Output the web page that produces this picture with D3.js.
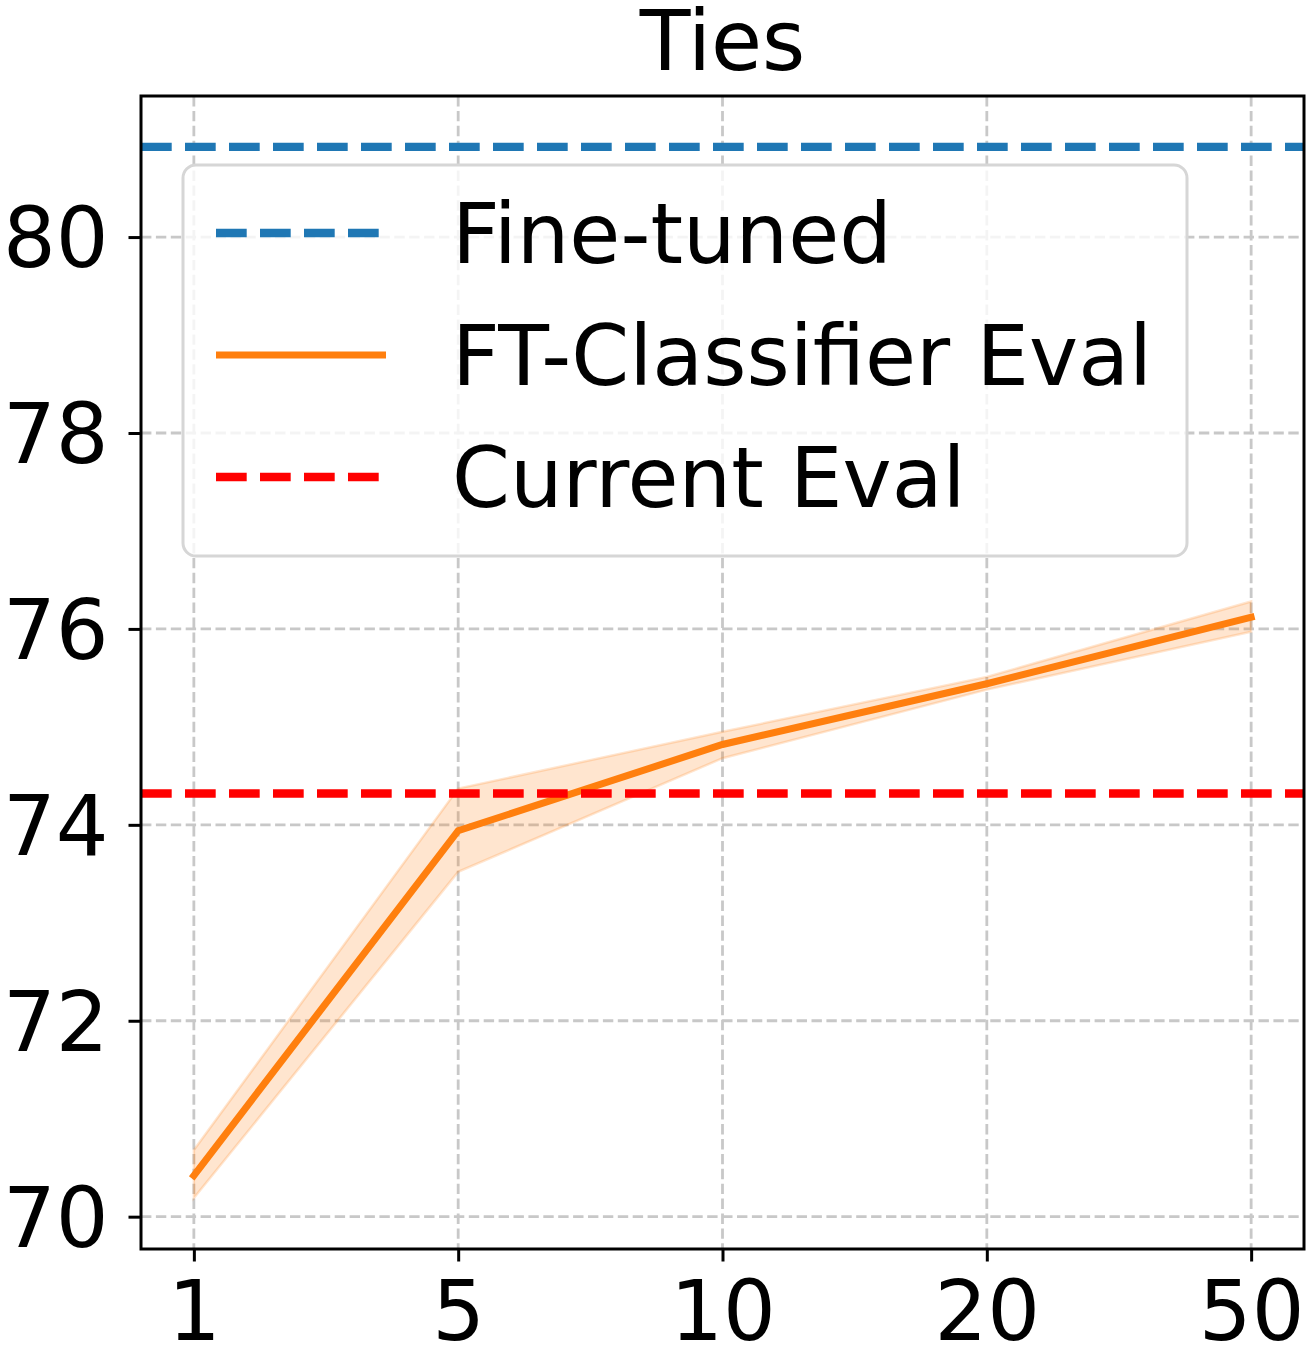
<!DOCTYPE html>
<html>
<head>
<meta charset="utf-8">
<script src="https://cdn.jsdelivr.net/npm/d3@7"></script>
<style>
  html, body { margin: 0; padding: 0; background: #fff; }
  svg { display: block; font-family: "DejaVu Sans", sans-serif; }
</style>
</head>
<body>
<svg id="chart" width="1310" height="1366"></svg>
<script>
const title = "Ties";
const categories = ["1", "5", "10", "20", "50"];
const ftClassifierMean = [70.42, 73.94, 74.82, 75.44, 76.12];
const ftClassifierUpper = [70.68, 74.37, 74.95, 75.51, 76.28];
const ftClassifierLower = [70.19, 73.52, 74.68, 75.38, 75.97];
const fineTunedValue = 80.92;
const currentEvalValue = 74.32;
const yTicks = [70, 72, 74, 76, 78, 80];
const legendLabels = ["Fine-tuned", "FT-Classifier Eval", "Current Eval"];

const svg = d3.select("#chart");
const L = 141, R = 1304, T = 96, B = 1249;

const x = d3.scaleLinear().domain([-0.2, categories.length - 1 + 0.2]).range([L, R]);
const y = d3.scaleLinear().domain([69.67, 81.44]).range([B, T]);

const FS = 83;

svg.append("defs").append("clipPath").attr("id", "clip")
  .append("rect").attr("x", L).attr("y", T).attr("width", R - L).attr("height", B - T);

// grid
const grid = svg.append("g");
yTicks.forEach(t => {
  grid.append("line").attr("x1", L).attr("x2", R).attr("y1", y(t)).attr("y2", y(t))
    .attr("stroke", "#c8c8c8").attr("stroke-width", 2.8).attr("stroke-dasharray", "10.4,4.5");
});
categories.forEach((c, i) => {
  grid.append("line").attr("y1", T).attr("y2", B).attr("x1", x(i)).attr("x2", x(i))
    .attr("stroke", "#c8c8c8").attr("stroke-width", 2.8).attr("stroke-dasharray", "10.4,4.5");
});

const plot = svg.append("g").attr("clip-path", "url(#clip)");

// fine-tuned line
plot.append("line").attr("x1", L).attr("x2", R)
  .attr("y1", y(fineTunedValue)).attr("y2", y(fineTunedValue))
  .attr("stroke", "#1f77b4").attr("stroke-width", 8.3).attr("stroke-dasharray", "30.7,13.3");

// band
const area = d3.area().x((d, i) => x(i)).y0((d, i) => y(ftClassifierLower[i])).y1((d, i) => y(ftClassifierUpper[i]));
plot.append("path").datum(ftClassifierMean).attr("d", area)
  .attr("fill", "#ff7f0e").attr("fill-opacity", 0.2)
  .attr("stroke", "#ff7f0e").attr("stroke-opacity", 0.2).attr("stroke-width", 2.5);

// mean line
const line = d3.line().x((d, i) => x(i)).y(d => y(d));
plot.append("path").datum(ftClassifierMean).attr("d", line)
  .attr("fill", "none").attr("stroke", "#ff7f0e").attr("stroke-width", 7)
  .attr("stroke-linejoin", "miter").attr("stroke-linecap", "square");

// current eval line
plot.append("line").attr("x1", L).attr("x2", R)
  .attr("y1", y(currentEvalValue)).attr("y2", y(currentEvalValue))
  .attr("stroke", "#ff0000").attr("stroke-width", 8.3).attr("stroke-dasharray", "30.7,13.3");

// axes
const xAxis = d3.axisBottom(x).tickValues(d3.range(categories.length))
  .tickFormat(i => categories[i]).tickSize(12.5).tickPadding(20);
const gx = svg.append("g").attr("transform", `translate(0,${B})`).call(xAxis);
gx.select(".domain").remove();
gx.selectAll(".tick line").attr("stroke", "#000").attr("stroke-width", 3);
gx.selectAll(".tick text").attr("font-size", FS).attr("fill", "#000")
  .attr("font-family", "DejaVu Sans").attr("dy", "0.71em");

const yAxis = d3.axisLeft(y).tickValues(yTicks).tickSize(12.5).tickPadding(20);
const gy = svg.append("g").attr("transform", `translate(${L},0)`).call(yAxis);
gy.select(".domain").remove();
gy.selectAll(".tick line").attr("stroke", "#000").attr("stroke-width", 3);
gy.selectAll(".tick text").attr("font-size", FS).attr("fill", "#000")
  .attr("font-family", "DejaVu Sans").attr("dy", "0.36em");

// frame
svg.append("rect").attr("x", L).attr("y", T).attr("width", R - L).attr("height", B - T)
  .attr("fill", "none").attr("stroke", "#000").attr("stroke-width", 3);

// title
svg.append("text").attr("x", (L + R) / 2).attr("y", 70).attr("text-anchor", "middle")
  .attr("font-size", FS).attr("fill", "#000").text(title);

// legend
const lg = svg.append("g");
lg.append("rect").attr("x", 183).attr("y", 165).attr("width", 1004).attr("height", 391)
  .attr("rx", 13).attr("ry", 13)
  .attr("fill", "#ffffff").attr("fill-opacity", 0.8)
  .attr("stroke", "#d6d6d6").attr("stroke-width", 3);
const legendStyles = [
  { color: "#1f77b4", dash: "30.7,13.3" },
  { color: "#ff7f0e", dash: null },
  { color: "#ff0000", dash: "30.7,13.3" }
];
const rowY = [233, 355, 477];
legendLabels.forEach((lab, i) => {
  const ln = lg.append("line").attr("x1", 216).attr("x2", 386).attr("y1", rowY[i]).attr("y2", rowY[i])
    .attr("stroke", legendStyles[i].color).attr("stroke-width", i === 1 ? 7 : 8.3);
  if (legendStyles[i].dash) ln.attr("stroke-dasharray", legendStyles[i].dash);
  lg.append("text").attr("x", 452).attr("y", rowY[i]).attr("dy", "0.36em")
    .attr("font-size", FS).attr("fill", "#000").text(lab);
});
</script>
</body>
</html>
